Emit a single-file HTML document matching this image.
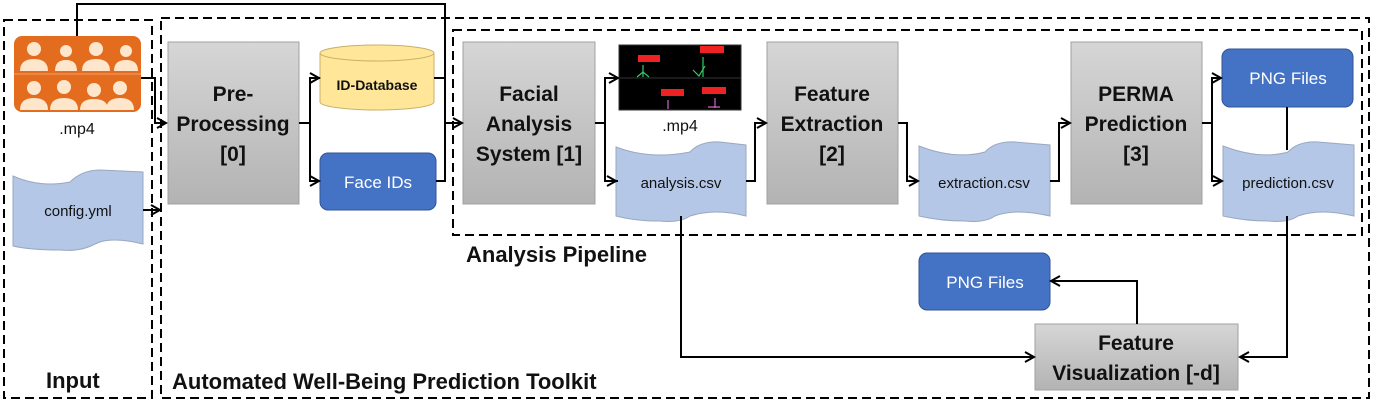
<!DOCTYPE html>
<html><head><meta charset="utf-8"><style>
html,body{margin:0;padding:0;background:#fff;}
svg{display:block;font-family:"Liberation Sans","DejaVu Sans",sans-serif;}
.b{font-weight:bold;font-size:21px;fill:#111;text-anchor:middle;}
.t{font-size:15px;fill:#111;text-anchor:middle;}
.w{font-size:17px;fill:#fff;text-anchor:middle;}
.l{font-weight:bold;font-size:22px;fill:#111;}
.c{fill:none;stroke:#000;stroke-width:2;}
.d{fill:none;stroke:#000;stroke-width:2;stroke-dasharray:9,5;}
.doc{fill:#b4c7e7;stroke:#9aa8c0;stroke-width:1;}
</style></head><body>
<svg width="1373" height="404" viewBox="0 0 1373 404">
<defs>
<linearGradient id="g" x1="0" y1="0" x2="0" y2="1"><stop offset="0" stop-color="#d6d6d6"/><stop offset="1" stop-color="#b3b3b3"/></linearGradient>
<marker id="a" markerWidth="12" markerHeight="12" refX="10" refY="6" orient="auto" markerUnits="userSpaceOnUse"><polyline points="1,1 10,6 1,11" fill="none" stroke="#000" stroke-width="2"/></marker>
</defs>
<rect class="d" x="4" y="20" width="148" height="378"/>
<rect class="d" x="161" y="18" width="1208" height="380"/>
<rect class="d" x="453" y="30" width="909" height="205"/>

<rect x="14" y="36" width="127" height="76" rx="8" fill="#e36c1e"/>
<line x1="14" y1="74" x2="141" y2="74" stroke="#f0a070" stroke-width="1"/>
<g fill="#fde6cc">
<circle cx="34" cy="49" r="7"/><path d="M20 71 q0-12 14-12 q14 0 14 12z"/>
<circle cx="66" cy="51" r="6"/><path d="M55 71 q0-11 11-11 q11 0 11 11z"/>
<circle cx="96" cy="49" r="7"/><path d="M82 71 q0-12 14-12 q14 0 14 12z"/>
<circle cx="126" cy="51" r="6"/><path d="M114 71 q0-11 12-11 q12 0 12 11z"/>
<circle cx="34" cy="88" r="7"/><path d="M20 110 q0-12 14-12 q14 0 14 12z"/>
<circle cx="64" cy="87" r="7"/><path d="M50 110 q0-12 14-12 q14 0 14 12z"/>
<circle cx="94" cy="90" r="7"/><path d="M80 110 q0-11 14-11 q14 0 14 11z"/>
<circle cx="120" cy="88" r="7"/><path d="M106 110 q0-12 14-12 q14 0 14 12z"/>
</g>
<text class="t" x="77" y="134" style="font-size:16px">.mp4</text>

<path class="doc" d="M13 176 Q40 188 70 182 Q82 170 100 170 L143 172 L143 244 Q110 236 95 244 Q80 252 60 250 Q30 250 13 246 Z"/>
<text class="t" x="78" y="216">config.yml</text>

<rect x="168" y="42" width="131" height="162" fill="url(#g)" stroke="#a0a0a0"/>
<text class="b" x="233" y="101">Pre-</text><text class="b" x="233" y="131">Processing</text><text class="b" x="233" y="161">[0]</text>

<path d="M320 53 L320 102 A57 8 0 0 0 434 102 L434 53" fill="#ffe699" stroke="#c8b068"/>
<ellipse cx="377" cy="53" rx="57" ry="8" fill="#ffe699" stroke="#c8b068"/>
<text x="377" y="90" text-anchor="middle" font-weight="bold" font-size="14" fill="#111">ID-Database</text>

<rect x="320" y="153" width="116" height="57" rx="8" fill="#4472c4" stroke="#2f5597"/>
<text class="w" x="378" y="188">Face IDs</text>

<rect x="463" y="42" width="132" height="162" fill="url(#g)" stroke="#a0a0a0"/>
<text class="b" x="529" y="101">Facial</text><text class="b" x="529" y="131">Analysis</text><text class="b" x="529" y="161">System [1]</text>

<rect x="619" y="45" width="122" height="65" fill="#000" stroke="#333"/>
<line x1="619" y1="78" x2="741" y2="78" stroke="#333"/>
<rect x="638" y="55" width="22" height="7" fill="#e22"/><rect x="700" y="46" width="24" height="7" fill="#e22"/>
<rect x="661" y="89" width="23" height="7" fill="#e22"/><rect x="702" y="87" width="24" height="7" fill="#e22"/>
<path d="M643 65 v12 M637 77 l6-5 l6 5 M703 57 v20 M693 70 l6 6 l6-10" stroke="#3c6" stroke-width="1.2" fill="none"/>
<path d="M668 100 v9 M715 98 v10 M708 107 h12" stroke="#c6c" stroke-width="1.2" fill="none"/>
<text class="t" x="680" y="131" style="font-size:16px">.mp4</text>

<path class="doc" d="M616 147 Q650 160 690 152 Q700 141 720 142 L746 145 L746 216 Q715 208 690 216 Q680 223 660 221 Q635 221 616 216 Z"/>
<text class="t" x="681" y="188">analysis.csv</text>

<rect x="767" y="42" width="131" height="162" fill="url(#g)" stroke="#a0a0a0"/>
<text class="b" x="832" y="101">Feature</text><text class="b" x="832" y="131">Extraction</text><text class="b" x="832" y="161">[2]</text>

<path class="doc" d="M919 146 Q955 160 985 152 Q995 141 1015 142 L1050 145 L1050 216 Q1015 208 995 216 Q985 223 965 221 Q940 221 919 216 Z"/>
<text class="t" x="984" y="188">extraction.csv</text>

<rect x="1071" y="42" width="131" height="162" fill="url(#g)" stroke="#a0a0a0"/>
<text class="b" x="1136" y="101">PERMA</text><text class="b" x="1136" y="131">Prediction</text><text class="b" x="1136" y="161">[3]</text>

<rect x="1222" y="49" width="131" height="58" rx="8" fill="#4472c4" stroke="#2f5597"/>
<text class="w" x="1288" y="84">PNG Files</text>

<path class="doc" d="M1223 146 Q1260 160 1288 152 Q1298 141 1318 142 L1354 145 L1354 216 Q1320 208 1298 216 Q1288 223 1268 221 Q1245 221 1223 216 Z"/>
<text class="t" x="1288" y="188">prediction.csv</text>

<rect x="919" y="253" width="131" height="57" rx="8" fill="#4472c4" stroke="#2f5597"/>
<text class="w" x="985" y="288">PNG Files</text>

<rect x="1035" y="324" width="203" height="66" fill="url(#g)" stroke="#a0a0a0"/>
<text class="b" x="1136" y="350">Feature</text><text class="b" x="1136" y="380">Visualization [-d]</text>

<text class="l" x="466" y="262">Analysis Pipeline</text>
<text class="l" x="46" y="388">Input</text>
<text class="l" x="172" y="389">Automated Well-Being Prediction Toolkit</text>

<polyline class="c" points="77,36 77,4 445,4 445,181 436,181"/>
<line class="c" x1="434" y1="78" x2="445" y2="78"/>
<line class="c" x1="445" y1="123" x2="462" y2="123" marker-end="url(#a)"/>
<polyline class="c" points="141,78 155,78 155,123 166,123" marker-end="url(#a)"/>
<line class="c" x1="143" y1="210" x2="160" y2="210" marker-end="url(#a)"/>
<polyline class="c" points="299,123 310,123"/>
<polyline class="c" points="320,78 310,78 310,181 319,181" marker-end="url(#a)"/>
<line class="c" x1="310" y1="78" x2="319" y2="78" marker-end="url(#a)"/>
<line class="c" x1="595" y1="123" x2="605" y2="123"/>
<polyline class="c" points="618,181 605,181 605,78 618,78" marker-end="url(#a)"/>
<line class="c" x1="605" y1="181" x2="616" y2="181" marker-end="url(#a)"/>
<polyline class="c" points="746,181 755,181 755,123 766,123" marker-end="url(#a)"/>
<polyline class="c" points="898,123 907,123 907,181 918,181" marker-end="url(#a)"/>
<polyline class="c" points="1050,181 1059,181 1059,123 1070,123" marker-end="url(#a)"/>
<line class="c" x1="1202" y1="123" x2="1212" y2="123"/>
<polyline class="c" points="1222,181 1212,181 1212,78 1221,78" marker-end="url(#a)"/>
<line class="c" x1="1212" y1="181" x2="1222" y2="181" marker-end="url(#a)"/>
<line class="c" x1="1287" y1="107" x2="1287" y2="150"/>
<polyline class="c" points="1287,216 1287,357 1240,357" marker-end="url(#a)"/>
<polyline class="c" points="681,216 681,357 1034,357" marker-end="url(#a)"/>
<polyline class="c" points="1137,324 1137,281 1051,281" marker-end="url(#a)"/>
</svg>
</body></html>
